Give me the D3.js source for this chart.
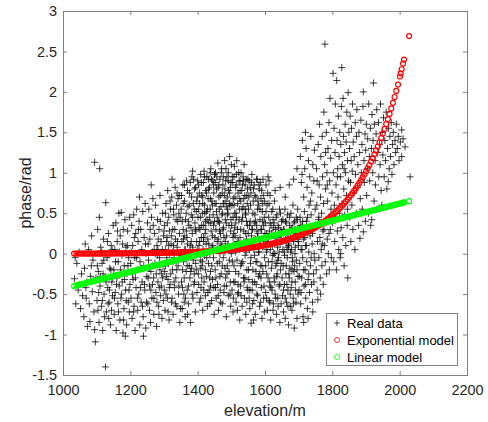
<!DOCTYPE html>
<html>
<head>
<meta charset="utf-8">
<script src="https://cdn.jsdelivr.net/npm/d3@7"></script>
<style>
  body { margin: 0; background: #fff; }
  svg { display: block; font-family: "Liberation Sans", Arial, Helvetica, sans-serif; }
</style>
</head>
<body>
<div id="chart"></div>
<script>
// Tick values
const xTicks = [1000, 1200, 1400, 1600, 1800, 2000, 2200];
const yTicks = [-1.5, -1, -0.5, 0, 0.5, 1, 1.5, 2, 2.5, 3];

// Legend labels
const legendLabels = ["Real data", "Exponential model", "Linear model"];

// Measured points [elevation, phase]
const realData = [
  [1034,-0.31],[1038,-0.62],[1041,-0.12],[1045,-0.45],[1048,0.02],[1052,-0.68],[1055,-0.25],[1058,-0.52],[1036,-0.05],[1050,-0.38],
  [1062,-0.78],[1064,-0.18],[1066,0.12],[1069,-0.55],[1071,-0.35],[1073,-0.9],[1076,0.05],[1078,-0.62],[1080,-0.84],[1082,-0.28],
  [1085,0.22],[1087,-0.47],[1089,-0.08],[1092,-0.72],[1094,-0.94],[1096,-1.09],[1098,-0.3],[1094,1.13],[1068,-0.42],[1084,-0.15],
  [1101,-0.58],[1103,0.3],[1105,-0.22],[1107,-0.85],[1108,0.45],[1109,1.05],[1110,-0.4],[1112,0.08],[1114,-0.65],[1116,-0.12],
  [1118,-0.95],[1120,0.18],[1122,-0.5],[1124,-0.3],[1126,-1.4],[1127,0.63],[1129,-0.72],[1131,-0.05],[1133,-0.42],[1135,0.25],
  [1137,-0.6],[1139,-0.18],[1141,-0.88],[1143,0.1],[1145,-0.35],[1147,-0.52],[1149,0.35],[1104,-0.7],[1119,-0.25],[1136,-0.8],
  [1151,-0.2],[1152,-0.75],[1154,0.05],[1155,-0.48],[1157,0.38],[1158,-0.95],[1160,-0.3],[1161,0.15],[1163,-0.62],[1164,-0.1],
  [1166,0.5],[1167,-0.4],[1169,-0.82],[1170,0.22],[1172,-0.55],[1173,0.51],[1175,-0.02],[1176,-0.35],[1178,-0.98],[1179,0.3],
  [1181,-0.68],[1182,-0.15],[1184,0.42],[1186,-0.45],[1187,0.08],[1189,-0.88],[1190,-0.25],[1192,0.28],[1194,-0.6],[1195,-0.05],
  [1197,-0.72],[1198,0.45],[1199,-0.38],[1168,0.02],[1185,-1.02],
  [1201,-0.12],[1202,-0.55],[1204,0.35],[1205,-0.8],[1207,0.1],[1208,-0.32],[1210,0.48],[1211,-0.65],[1213,-0.05],[1214,-0.95],
  [1216,0.25],[1217,-0.42],[1219,0.55],[1220,-0.2],[1222,-0.7],[1223,0.15],[1225,-0.5],[1226,0.4],[1228,-0.88],[1229,-0.1],
  [1231,0.3],[1232,-0.6],[1234,0.05],[1235,-0.35],[1237,0.52],[1238,-0.78],[1240,-0.15],[1241,0.2],[1243,-0.45],[1244,0.62],
  [1246,-0.92],[1247,0.0],[1249,-0.28],[1206,-0.25],[1227,0.7],[1239,-1.02],[1212,0.2],
  [1251,0.38],[1252,-0.62],[1254,-0.08],[1255,0.55],[1257,-0.4],[1258,0.18],[1260,-0.85],[1261,-0.22],[1263,0.45],[1264,-0.55],
  [1266,0.02],[1267,0.68],[1269,-0.3],[1270,-0.75],[1272,0.25],[1273,-0.12],[1275,0.6],[1276,-0.48],[1278,-0.9],[1279,0.1],
  [1281,0.42],[1282,-0.35],[1284,-0.65],[1285,0.3],[1287,-0.05],[1288,0.72],[1290,-0.52],[1291,0.15],[1293,-0.25],[1294,-0.8],
  [1296,0.5],[1297,-0.15],[1299,0.22],[1256,-0.18],[1271,0.05],[1286,-0.42],[1262,0.85],[1280,-0.02],
  [1301,-0.45],[1302,0.35],[1303,-0.7],[1305,0.05],[1306,0.62],[1307,-0.28],[1309,0.2],[1310,-0.55],[1311,0.78],[1313,-0.12],
  [1314,0.45],[1315,-0.82],[1317,0.0],[1318,-0.38],[1319,0.55],[1321,0.12],[1322,-0.6],[1323,0.7],[1325,-0.2],[1326,0.3],
  [1327,-0.75],[1329,0.48],[1330,-0.05],[1331,-0.42],[1333,0.82],[1334,0.18],[1335,-0.3],[1337,0.6],[1338,-0.65],[1339,0.08],
  [1341,0.4],[1342,-0.15],[1343,-0.5],[1345,0.72],[1346,0.25],[1347,-0.85],[1349,-0.02],[1304,-0.15],[1316,0.28],[1328,0.1],
  [1336,-0.1],[1344,0.5],[1312,-0.32],[1324,0.92],
  [1351,0.55],[1352,-0.35],[1353,0.15],[1354,-0.68],[1356,0.85],[1357,0.3],[1358,-0.1],[1359,-0.5],[1361,0.65],[1362,0.05],
  [1363,-0.78],[1364,0.42],[1366,-0.22],[1367,0.9],[1368,0.2],[1369,-0.45],[1371,0.58],[1372,-0.05],[1373,-0.62],[1374,0.35],
  [1376,0.75],[1377,-0.3],[1378,0.1],[1379,-0.85],[1381,0.48],[1382,-0.18],[1383,0.95],[1384,0.25],[1386,-0.55],[1387,0.62],
  [1388,0.0],[1389,-0.38],[1391,0.8],[1392,0.38],[1393,-0.72],[1394,-0.12],[1396,0.52],[1397,0.15],[1398,-0.48],[1399,0.7],
  [1355,-0.2],[1360,0.22],[1365,-0.02],[1370,0.12],[1375,-0.15],[1380,0.32],[1385,0.08],[1390,-0.25],[1395,0.28],[1370,-0.75],
  [1385,1.02],[1360,-0.6],
  [1401,0.45],[1402,-0.25],[1403,0.85],[1404,0.1],[1405,-0.6],[1406,0.62],[1407,0.3],[1408,-0.08],[1409,0.98],[1410,-0.42],
  [1411,0.2],[1412,0.72],[1413,-0.15],[1414,0.5],[1415,-0.7],[1416,0.05],[1417,0.88],[1418,0.35],[1419,-0.35],[1420,0.6],
  [1421,-0.02],[1422,0.25],[1423,-0.52],[1424,0.78],[1425,0.12],[1426,-0.28],[1427,0.95],[1428,0.42],[1429,-0.65],[1430,0.18],
  [1431,0.68],[1432,-0.12],[1433,0.38],[1434,-0.45],[1435,0.82],[1436,0.0],[1437,0.55],[1438,-0.22],[1439,1.05],[1440,0.28],
  [1441,-0.58],[1442,0.65],[1443,0.08],[1444,-0.32],[1445,0.9],[1446,0.48],[1447,-0.05],[1448,0.75],[1449,-0.75],[1404,0.32],
  [1412,-0.3],[1418,0.15],[1426,0.52],[1432,0.92],[1438,-0.4],[1444,0.22],[1409,-0.18],[1423,0.4],[1436,-0.62],[1447,0.35],
  [1415,0.7],[1429,0.02],
  [1451,0.62],[1452,-0.2],[1453,1.0],[1454,0.3],[1455,-0.55],[1456,0.8],[1457,0.05],[1458,0.45],[1459,-0.38],[1460,1.12],
  [1461,0.18],[1462,-0.7],[1463,0.7],[1464,-0.1],[1465,0.38],[1466,0.92],[1467,-0.45],[1468,0.25],[1469,0.58],[1470,-0.25],
  [1471,1.05],[1472,0.1],[1473,-0.62],[1474,0.5],[1475,0.85],[1476,-0.05],[1477,0.32],[1478,-0.48],[1479,0.72],[1480,1.15],
  [1481,0.02],[1482,0.42],[1483,-0.3],[1484,0.65],[1485,-0.78],[1486,0.22],[1487,0.95],[1488,-0.15],[1489,0.55],[1490,0.12],
  [1491,-0.52],[1492,0.78],[1493,0.35],[1494,-0.08],[1495,1.2],[1496,0.6],[1497,-0.35],[1498,0.28],[1499,0.88],[1453,-0.42],
  [1458,0.15],[1463,0.4],[1468,-0.6],[1473,0.75],[1478,0.2],[1483,0.9],[1488,0.48],[1493,-0.22],[1498,-0.65],[1456,0.52],
  [1466,0.0],[1476,0.62],[1486,-0.4],[1496,0.08],[1461,0.82],[1481,-0.18],[1491,1.0],
  [1501,0.35],[1502,-0.45],[1503,0.95],[1504,0.1],[1505,-0.72],[1506,0.68],[1507,0.25],[1508,-0.15],[1509,1.08],[1510,0.5],
  [1511,-0.35],[1512,0.82],[1513,0.02],[1514,-0.6],[1515,0.45],[1516,1.15],[1517,-0.08],[1518,0.3],[1519,-0.5],[1520,0.75],
  [1521,0.15],[1522,-0.25],[1523,0.9],[1524,0.55],[1525,-0.82],[1526,0.2],[1527,-0.4],[1528,0.65],[1529,1.0],[1530,-0.12],
  [1531,0.4],[1532,-0.65],[1533,0.85],[1534,0.08],[1535,0.58],[1536,-0.3],[1537,0.28],[1538,1.1],[1539,-0.55],[1540,0.72],
  [1541,-0.02],[1542,0.48],[1543,-0.75],[1544,0.92],[1545,0.18],[1546,-0.2],[1547,0.62],[1548,0.35],[1549,-0.45],[1503,-0.1],
  [1508,0.6],[1513,0.38],[1518,-0.7],[1523,0.12],[1528,-0.15],[1533,0.45],[1538,-0.35],[1543,0.25],[1548,0.8],[1506,-0.55],
  [1516,0.05],[1526,0.78],[1536,0.9],[1546,-0.6],[1511,0.22],[1521,-0.48],[1541,0.55],
  [1551,0.55],[1552,-0.32],[1553,0.9],[1554,0.05],[1555,-0.68],[1556,0.4],[1557,-0.12],[1558,0.75],[1559,-0.86],[1560,0.22],
  [1561,0.98],[1562,-0.45],[1563,0.3],[1564,-0.2],[1565,0.65],[1566,0.1],[1567,-0.58],[1568,0.85],[1569,-0.02],[1570,0.48],
  [1571,-0.75],[1572,0.18],[1573,0.7],[1574,-0.38],[1575,0.35],[1576,-0.1],[1577,0.92],[1578,-0.52],[1579,0.25],[1580,0.6],
  [1581,-0.28],[1582,0.02],[1583,0.8],[1584,-0.65],[1585,0.42],[1586,-0.15],[1587,0.15],[1588,0.68],[1589,-0.42],[1590,0.3],
  [1591,-0.8],[1592,0.52],[1593,0.08],[1594,-0.22],[1595,0.72],[1596,-0.55],[1597,0.2],[1598,0.45],[1599,-0.05],[1553,-0.55],
  [1558,0.12],[1563,-0.35],[1568,0.38],[1573,-0.22],[1578,0.55],[1583,0.1],[1588,-0.3],[1593,0.62],[1598,-0.72],[1556,0.82],
  [1566,-0.82],[1576,0.28],[1586,0.88],[1596,0.35],
  [1601,0.38],[1602,-0.48],[1603,0.85],[1604,0.02],[1605,-0.25],[1606,0.6],[1607,-0.7],[1608,0.15],[1609,0.95],[1610,-0.1],
  [1611,0.45],[1612,-0.58],[1613,0.28],[1614,-0.35],[1615,0.72],[1616,0.05],[1617,-0.82],[1618,0.35],[1619,-0.18],[1620,0.52],
  [1621,-0.45],[1622,0.1],[1623,-0.02],[1624,0.42],[1625,-0.62],[1626,0.22],[1627,-0.3],[1628,0.65],[1629,0.0],[1630,-0.5],
  [1631,0.3],[1632,-0.15],[1633,0.15],[1634,-0.75],[1635,0.48],[1636,-0.25],[1637,0.08],[1638,-0.55],[1639,0.35],[1640,-0.05],
  [1641,0.2],[1642,-0.4],[1643,0.55],[1644,-0.85],[1645,0.12],[1646,-0.2],[1647,0.28],[1648,-0.62],[1649,0.4],[1605,0.25],
  [1615,-0.4],[1625,0.32],[1635,-0.12],[1645,0.82],[1612,0.62],[1630,0.78],
  [1651,0.15],[1652,-0.52],[1653,0.42],[1654,-0.15],[1655,-0.72],[1656,0.3],[1657,0.02],[1658,-0.38],[1659,0.55],[1660,-0.8],
  [1661,0.18],[1662,-0.25],[1663,0.38],[1664,-0.6],[1665,0.08],[1666,-0.05],[1667,0.48],[1668,-0.45],[1669,0.25],[1670,-0.88],
  [1671,0.12],[1672,-0.3],[1673,0.35],[1674,-0.18],[1675,-0.65],[1676,0.2],[1677,0.5],[1678,-0.42],[1679,0.05],[1680,-0.7],
  [1681,0.32],[1682,-0.1],[1683,0.6],[1684,-0.55],[1685,0.15],[1686,-0.22],[1687,-0.92],[1688,0.4],[1689,0.0],[1690,-0.35],
  [1691,0.25],[1692,-0.6],[1693,0.45],[1694,-0.08],[1695,-0.8],[1696,0.18],[1697,0.55],[1698,-0.28],[1699,0.1],[1660,0.7],
  [1672,0.85],[1685,0.92],[1695,1.05],[1668,0.05],[1680,-0.2],[1690,0.3],
  [1701,-0.45],[1702,0.25],[1703,-0.12],[1704,0.45],[1705,1.2],[1706,-0.62],[1707,0.05],[1708,0.88],[1709,-0.3],[1710,0.35],
  [1711,1.4],[1712,-0.05],[1713,-0.78],[1714,0.18],[1715,0.7],[1716,-0.4],[1717,0.52],[1718,1.05],[1719,-0.2],[1720,0.1],
  [1721,-0.55],[1722,1.3],[1723,0.4],[1724,-0.1],[1725,0.82],[1726,-0.68],[1727,0.28],[1728,-0.32],[1729,1.15],[1730,0.02],
  [1731,0.6],[1732,-0.48],[1733,0.95],[1734,0.22],[1735,-0.15],[1736,1.45],[1737,0.48],[1738,-0.38],[1739,0.75],[1740,0.12],
  [1741,-0.6],[1742,1.1],[1743,0.32],[1744,-0.25],[1745,0.9],[1746,0.0],[1747,1.28],[1748,-0.08],[1749,0.55],[1715,-0.85],
  [1728,-0.8],[1742,-0.72],[1710,0.98],[1720,1.5],[1735,0.65],
  [1751,0.35],[1752,-0.2],[1753,1.05],[1754,0.6],[1755,-0.45],[1756,0.15],[1757,-0.57],[1758,1.35],[1759,0.42],[1760,-0.05],
  [1761,0.85],[1762,1.6],[1763,0.2],[1764,-0.3],[1765,0.7],[1766,1.2],[1767,0.05],[1768,0.5],[1769,-0.15],[1770,1.45],
  [1771,0.95],[1772,0.28],[1773,-0.38],[1774,0.62],[1775,1.75],[1776,0.1],[1777,1.1],[1778,2.59],[1779,-0.1],[1780,0.8],
  [1781,0.38],[1782,1.5],[1783,-0.25],[1784,1.0],[1785,0.18],[1786,0.65],[1787,1.3],[1788,0.0],[1789,0.45],[1790,1.62],
  [1791,-0.2],[1792,0.9],[1793,1.92],[1794,0.3],[1795,1.18],[1796,0.55],[1797,-0.05],[1798,1.4],[1799,0.75],[1760,0.45],
  [1770,0.12],[1780,1.25],[1790,0.25],[1755,0.9],[1765,-0.5],[1775,0.3],[1785,0.85],
  [1801,0.38],[1802,2.23],[1803,1.0],[1804,-0.1],[1805,1.55],[1806,0.6],[1807,0.15],[1808,1.25],[1809,1.85],[1810,0.45],
  [1811,0.85],[1812,-0.2],[1813,2.14],[1814,1.4],[1815,0.28],[1816,1.05],[1817,0.7],[1818,1.7],[1819,0.05],[1820,1.2],
  [1821,0.5],[1822,1.5],[1823,-0.05],[1824,0.95],[1825,1.35],[1826,0.32],[1827,1.82],[1828,2.3],[1829,0.62],[1830,1.1],
  [1831,0.2],[1832,1.92],[1833,1.45],[1834,0.8],[1835,-0.15],[1836,1.25],[1837,0.48],[1838,1.6],[1839,1.0],[1840,0.1],
  [1841,1.38],[1842,0.72],[1843,1.75],[1844,0.35],[1845,1.15],[1846,-0.3],[1847,1.99],[1848,0.9],[1849,1.5],[1815,0.95],
  [1825,0.0],[1835,1.05],[1845,0.55],
  [1851,1.3],[1852,0.45],[1853,1.7],[1854,0.88],[1855,0.15],[1856,1.15],[1857,1.55],[1858,0.6],[1859,1.02],[1860,1.85],
  [1861,0.3],[1862,1.38],[1864,0.75],[1865,1.2],[1867,0.05],[1868,1.62],[1869,0.98],[1871,0.5],[1872,1.45],[1873,1.78],
  [1875,0.82],[1876,1.1],[1878,0.35],[1879,1.5],[1881,1.25],[1882,0.19],[1883,0.68],[1885,1.65],[1886,1.0],[1888,1.35],
  [1889,0.55],[1891,1.82],[1892,2.0],[1892,0.27],[1894,1.15],[1895,0.88],[1897,1.48],[1898,0.4],[1899,1.28],
  [1901,1.6],[1902,0.72],[1904,1.05],[1905,1.42],[1907,0.5],[1908,1.85],[1910,1.2],[1911,0.9],[1913,1.55],[1914,0.35],
  [1916,1.3],[1917,0.42],[1918,1.72],[1920,1.0],[1921,1.4],[1922,2.11],[1924,0.65],[1925,1.6],[1927,1.15],[1928,0.85],
  [1930,1.48],[1932,1.78],[1933,0.55],[1935,1.25],[1937,1.62],[1938,0.95],[1940,1.35],[1942,1.1],[1943,1.85],[1945,0.78],
  [1947,0.6],[1948,1.5],[1950,1.22],
  [1952,1.68],[1954,0.95],[1956,1.4],[1958,1.15],[1960,1.75],[1962,0.8],[1964,1.3],[1966,0.89],[1967,1.55],[1969,1.05],
  [1971,1.45],[1973,1.2],[1975,1.62],[1977,0.98],[1979,1.35],[1981,1.5],[1983,1.1],[1986,1.4],[1988,1.25],[1990,1.6],
  [1993,1.3],[1996,1.45],[1998,1.15],
  [2002,1.38],[2006,1.53],[2006,1.2],[2010,1.42],[2016,1.32],[2031,0.95],
  // denser core of the cloud
  [1102,-0.15],[1106,-0.48],[1111,-0.28],[1115,0.02],[1117,-0.58],[1121,-0.08],[1123,-0.78],[1128,-0.35],[1132,0.15],[1134,-0.62],
  [1138,-0.45],[1142,-0.2],[1144,-0.7],[1146,0.05],[1148,-0.3],[1153,-0.55],[1156,-0.1],[1159,-0.38],[1162,0.28],[1165,-0.72],
  [1171,-0.2],[1174,-0.5],[1177,0.12],[1180,-0.82],[1183,-0.32],[1188,-0.58],[1191,0.1],[1193,-0.15],[1196,-0.45],[1203,0.02],
  [1209,-0.72],[1215,-0.3],[1218,-0.05],[1221,-0.55],[1224,0.3],[1230,-0.42],[1233,-0.18],[1236,-0.65],[1242,-0.38],[1245,0.12],
  [1248,-0.6],
  [1253,-0.3],[1253,0.12],[1257,-0.7],[1259,0.3],[1261,-0.45],[1265,-0.15],[1268,0.35],[1270,-0.55],[1274,0.0],[1277,-0.25],
  [1279,-0.6],[1283,0.18],[1285,-0.75],[1288,-0.2],[1289,0.4],[1292,-0.4],[1295,0.05],[1298,-0.58],[1300,0.28],[1302,-0.22],
  [1304,0.5],[1306,-0.5],[1308,-0.05],[1310,0.38],[1312,-0.72],[1314,0.1],[1316,-0.42],[1318,0.65],[1320,-0.25],[1322,0.22],
  [1324,-0.55],[1326,0.02],[1328,0.55],[1330,-0.35],[1332,0.3],[1334,-0.62],[1336,0.42],[1338,-0.2],[1340,0.15],[1342,0.68],
  [1344,-0.4],[1346,-0.05],[1348,0.45],[1349,-0.68],[1266,-0.38],[1282,0.05],[1296,-0.3],[1308,0.15],[1327,-0.1],[1339,0.75],
  [1351,-0.05],[1352,0.72],[1354,0.4],[1355,-0.42],[1357,0.62],[1358,0.18],[1360,-0.3],[1361,0.85],[1363,0.05],[1364,-0.55],
  [1366,0.5],[1367,0.28],[1369,-0.15],[1370,0.78],[1372,0.4],[1373,-0.4],[1375,0.6],[1376,0.02],[1378,0.88],[1379,-0.22],
  [1381,0.15],[1382,0.7],[1384,-0.5],[1385,0.45],[1387,-0.08],[1388,0.92],[1390,0.55],[1391,-0.35],[1393,0.3],[1394,0.82],
  [1396,-0.2],[1397,0.65],[1399,0.05],[1400,0.9],[1402,0.55],[1403,-0.38],[1405,0.75],[1406,0.15],[1408,0.45],[1409,-0.55],
  [1411,0.88],[1412,0.35],[1414,-0.1],[1415,0.62],[1417,0.2],[1418,-0.45],[1420,0.95],[1421,0.5],[1423,-0.2],[1424,0.3],
  [1426,0.75],[1427,-0.05],[1429,0.55],[1430,-0.48],[1432,0.8],[1433,0.12],[1435,0.45],[1436,-0.3],[1438,0.68],[1439,0.38],
  [1441,0.92],[1442,-0.15],[1444,0.6],[1445,0.1],[1447,0.85],[1448,-0.42],[1450,0.4],[1450,0.98],[1437,1.0],[1419,1.02],
  [1451,0.2],[1452,0.88],[1454,-0.3],[1455,0.62],[1457,0.95],[1458,-0.12],[1460,0.4],[1461,-0.52],[1463,0.85],[1464,0.55],
  [1466,-0.28],[1467,0.72],[1469,0.12],[1470,1.0],[1472,0.48],[1473,-0.15],[1475,0.3],[1476,0.95],[1478,0.62],[1479,-0.4],
  [1481,0.8],[1482,0.15],[1484,1.05],[1485,0.38],[1487,-0.25],[1488,0.7],[1490,0.5],[1491,0.9],[1493,0.05],[1494,0.62],
  [1496,-0.5],[1497,0.82],[1499,0.42],[1500,1.1],[1500,0.0],[1502,0.6],[1504,0.88],[1505,0.2],[1507,-0.35],[1508,0.95],
  [1510,0.32],[1511,0.7],[1513,-0.22],[1514,0.5],[1516,0.85],[1517,0.15],[1519,0.62],[1520,-0.38],[1522,1.0],[1523,0.42],
  [1525,0.05],[1526,0.9],[1528,0.3],[1529,-0.52],[1531,0.78],[1532,0.55],[1534,-0.1],[1535,0.95],[1537,0.68],[1538,0.12],
  [1540,-0.3],[1541,0.85],[1543,0.5],[1544,0.02],[1546,0.72],[1547,-0.42],[1549,0.92],[1550,0.25],[1465,0.28],[1485,0.58],
  [1505,0.45],[1525,0.68],[1545,0.4],[1495,0.75],[1515,0.98],
  [1551,-0.2],[1552,0.7],[1554,0.35],[1555,-0.45],[1557,0.6],[1558,-0.05],[1560,0.88],[1561,0.3],[1563,-0.62],[1564,0.5],
  [1566,0.8],[1567,0.05],[1569,-0.35],[1570,0.72],[1572,0.4],[1573,-0.1],[1575,0.92],[1576,-0.5],[1578,0.2],[1579,0.65],
  [1581,0.02],[1582,0.85],[1584,-0.25],[1585,0.55],[1587,-0.6],[1588,0.3],[1590,0.78],[1591,-0.15],[1593,0.4],[1594,0.92],
  [1596,0.12],[1597,-0.4],[1599,0.65],[1600,0.25],[1602,-0.15],[1603,0.52],[1605,-0.55],[1606,0.05],[1608,0.75],[1609,-0.3],
  [1611,0.2],[1612,0.9],[1614,-0.6],[1615,0.38],[1617,0.12],[1618,-0.42],[1620,0.25],[1621,-0.1],[1623,0.55],[1624,-0.7],
  [1626,0.0],[1627,0.38],[1629,-0.35],[1630,0.15],[1632,-0.55],[1633,0.45],[1635,-0.28],[1636,0.2],[1638,-0.08],[1639,-0.65],
  [1641,0.32],[1642,0.02],[1644,-0.38],[1646,0.5],[1648,-0.12],
  [1651,-0.3],[1653,0.05],[1655,-0.45],[1656,0.3],[1658,-0.02],[1660,-0.55],[1661,0.4],[1663,-0.15],[1665,-0.38],[1666,0.25],
  [1668,-0.65],[1670,0.1],[1671,-0.25],[1673,0.45],[1675,-0.5],[1676,0.02],[1678,0.3],[1680,-0.35],[1681,-0.05],[1683,0.2],
  [1685,-0.62],[1686,0.38],[1688,-0.15],[1690,0.08],[1691,-0.45],[1693,0.25],[1695,-0.2],[1696,0.42],[1698,-0.5],[1700,0.15],
  [1702,-0.28],[1705,0.35],[1707,-0.48],[1710,0.05],[1712,0.4],[1715,-0.2],[1718,0.2],[1720,-0.38],[1723,0.1],[1726,0.45],
  [1730,-0.25],[1733,0.3],[1737,-0.05],[1741,0.25],[1745,-0.35]
];

// Elevations at which both models are plotted
const modelX = [
  1033,1040,1045,1050,1055,1060,1065,1070,1075,1080,
  1085,1090,1095,1100,1105,1110,1115,1120,1125,1130,
  1135,1140,1145,1150,1155,1160,1165,1170,1175,1180,
  1185,1190,1195,1200,1205,1210,1215,1220,1225,1230,
  1235,1240,1245,1250,1255,1260,1265,1270,1275,1280,
  1285,1290,1295,1300,1305,1310,1315,1320,1325,1330,
  1335,1340,1345,1350,1355,1360,1365,1370,1375,1380,
  1385,1390,1395,1400,1405,1410,1415,1420,1425,1430,
  1435,1440,1445,1450,1455,1460,1465,1470,1475,1480,
  1485,1490,1495,1500,1505,1510,1515,1520,1525,1530,
  1535,1540,1545,1550,1555,1560,1565,1570,1575,1580,
  1585,1590,1595,1600,1605,1610,1615,1620,1625,1630,
  1635,1640,1645,1650,1655,1660,1665,1670,1675,1680,
  1685,1690,1695,1700,1705,1710,1715,1720,1725,1730,
  1735,1740,1745,1750,1755,1760,1765,1770,1775,1780,
  1785,1790,1795,1800,1805,1810,1815,1820,1825,1830,
  1835,1840,1845,1850,1855,1860,1865,1870,1875,1880,
  1885,1890,1895,1900,1905,1910,1915,1920,1925,1930,
  1935,1940,1945,1950,1955,1960,1965,1970,1975,1980,
  1985,1990,1995,2001,2003,2006,2010,2013,2028
];

// Exponential model values
const expY = [
  0.001,0.002,0.002,0.002,0.002,0.002,0.002,0.002,0.002,0.002,
  0.002,0.002,0.002,0.002,0.003,0.003,0.003,0.003,0.003,0.003,
  0.003,0.003,0.003,0.004,0.004,0.004,0.004,0.004,0.004,0.004,
  0.005,0.005,0.005,0.005,0.005,0.006,0.006,0.006,0.006,0.007,
  0.007,0.007,0.007,0.008,0.008,0.008,0.009,0.009,0.009,0.010,
  0.010,0.010,0.011,0.011,0.012,0.012,0.012,0.013,0.013,0.014,
  0.014,0.015,0.015,0.016,0.016,0.017,0.018,0.018,0.019,0.020,
  0.020,0.021,0.022,0.023,0.024,0.025,0.026,0.027,0.028,0.029,
  0.030,0.031,0.032,0.033,0.035,0.036,0.037,0.039,0.040,0.042,
  0.044,0.045,0.047,0.049,0.051,0.053,0.055,0.057,0.059,0.061,
  0.064,0.066,0.069,0.071,0.074,0.077,0.080,0.083,0.086,0.089,
  0.093,0.096,0.100,0.104,0.108,0.112,0.116,0.121,0.126,0.131,
  0.136,0.141,0.146,0.152,0.158,0.164,0.170,0.177,0.184,0.191,
  0.198,0.206,0.214,0.223,0.231,0.240,0.249,0.259,0.269,0.280,
  0.290,0.302,0.313,0.325,0.338,0.351,0.365,0.379,0.394,0.409,
  0.425,0.441,0.458,0.476,0.494,0.513,0.533,0.554,0.575,0.597,
  0.620,0.644,0.669,0.695,0.722,0.750,0.779,0.809,0.840,0.873,
  0.907,0.942,0.978,1.016,1.055,1.096,1.138,1.182,1.228,1.276,
  1.325,1.376,1.430,1.485,1.542,1.602,1.664,1.728,1.795,1.865,
  1.937,2.012,2.09,2.19,2.23,2.28,2.35,2.40,2.69
];

// Linear model values
const linY = [
  -0.400,-0.393,-0.387,-0.382,-0.377,-0.372,-0.366,-0.361,-0.356,-0.350,
  -0.345,-0.340,-0.335,-0.329,-0.324,-0.319,-0.314,-0.308,-0.303,-0.298,
  -0.292,-0.287,-0.282,-0.277,-0.271,-0.266,-0.261,-0.256,-0.250,-0.245,
  -0.240,-0.235,-0.229,-0.224,-0.219,-0.213,-0.208,-0.203,-0.198,-0.192,
  -0.187,-0.182,-0.177,-0.171,-0.166,-0.161,-0.155,-0.150,-0.145,-0.140,
  -0.134,-0.129,-0.124,-0.119,-0.113,-0.108,-0.103,-0.098,-0.092,-0.087,
  -0.082,-0.076,-0.071,-0.066,-0.061,-0.055,-0.050,-0.045,-0.039,-0.034,
  -0.029,-0.024,-0.018,-0.013,-0.008,-0.003,0.003,0.008,0.013,0.018,
  0.024,0.029,0.034,0.040,0.045,0.050,0.055,0.061,0.066,0.071,
  0.076,0.082,0.087,0.092,0.097,0.103,0.108,0.113,0.119,0.124,
  0.129,0.134,0.140,0.145,0.150,0.155,0.161,0.166,0.171,0.177,
  0.182,0.187,0.192,0.198,0.203,0.208,0.213,0.219,0.224,0.229,
  0.234,0.240,0.245,0.250,0.256,0.261,0.266,0.271,0.277,0.282,
  0.287,0.293,0.298,0.303,0.308,0.314,0.319,0.324,0.329,0.335,
  0.340,0.345,0.350,0.356,0.361,0.366,0.372,0.377,0.382,0.387,
  0.393,0.398,0.403,0.408,0.414,0.419,0.424,0.430,0.435,0.440,
  0.445,0.451,0.456,0.461,0.466,0.472,0.477,0.482,0.487,0.493,
  0.498,0.503,0.509,0.514,0.519,0.524,0.530,0.535,0.540,0.545,
  0.551,0.556,0.561,0.566,0.572,0.577,0.582,0.588,0.593,0.598,
  0.603,0.609,0.614,0.620,0.622,0.625,0.630,0.633,0.649
];

const width = 488, height = 422;
const margin = {top: 11, right: 21, bottom: 47, left: 63};
const textColor = '#262626';
const frameColor = '#808080';

const svg = d3.select('#chart').append('svg')
  .attr('width', width)
  .attr('height', height);

// Scales
const x = d3.scaleLinear()
  .domain([1000, 2200])
  .range([margin.left, width - margin.right]);

const y = d3.scaleLinear()
  .domain([-1.5, 3])
  .range([height - margin.bottom, margin.top]);

/////////////////////////////////////////////////////////
////////////////////// Axes ////////////////////////////
/////////////////////////////////////////////////////////

const fmt = d => String(d);

function styleAxis(g) {
  g.select('.domain').remove();
  g.selectAll('.tick line').attr('stroke', frameColor);
  g.selectAll('.tick text')
    .attr('fill', textColor)
    .style('font-size', '14.4px');
}

svg.append('g')
  .attr('transform', 'translate(0,' + (height - margin.bottom) + ')')
  .call(d3.axisBottom(x).tickValues(xTicks).tickFormat(fmt).tickSizeInner(-4).tickSizeOuter(0).tickPadding(10))
  .call(styleAxis);

svg.append('g')
  .attr('transform', 'translate(0,' + margin.top + ')')
  .call(d3.axisTop(x).tickValues(xTicks).tickFormat('').tickSizeInner(-4).tickSizeOuter(0))
  .call(styleAxis);

svg.append('g')
  .attr('transform', 'translate(' + margin.left + ',0)')
  .call(d3.axisLeft(y).tickValues(yTicks).tickFormat(fmt).tickSizeInner(-4).tickSizeOuter(0).tickPadding(6))
  .call(styleAxis);

svg.append('g')
  .attr('transform', 'translate(' + (width - margin.right) + ',0)')
  .call(d3.axisRight(y).tickValues(yTicks).tickFormat('').tickSizeInner(-4).tickSizeOuter(0))
  .call(styleAxis);

// Box around the plot
svg.append('rect')
  .attr('x', x(1000))
  .attr('y', y(3))
  .attr('width', x(2200) - x(1000))
  .attr('height', y(-1.5) - y(3))
  .attr('fill', 'none')
  .attr('stroke', frameColor)
  .attr('stroke-width', 1)
  .attr('shape-rendering', 'crispEdges');

// Axis labels
svg.append('text')
  .attr('x', (x(1000) + x(2200)) / 2)
  .attr('y', 416)
  .attr('text-anchor', 'middle')
  .attr('fill', textColor)
  .style('font-size', '16px')
  .text('elevation/m');

svg.append('text')
  .attr('transform', 'translate(31,' + ((y(3) + y(-1.5)) / 2) + ') rotate(-90)')
  .attr('text-anchor', 'middle')
  .attr('fill', textColor)
  .style('font-size', '16px')
  .text('phase/rad');

/////////////////////////////////////////////////////////
////////////////////// Marks ///////////////////////////
/////////////////////////////////////////////////////////

const plus = 'M-3.5,0H3.5M0,-3.5V3.5';

svg.append('g')
  .selectAll('path')
  .data(realData)
  .enter()
  .append('path')
  .attr('transform', d => 'translate(' + x(d[0]) + ',' + y(d[1]) + ')')
  .attr('d', plus)
  .attr('stroke', '#000')
  .attr('stroke-opacity', 0.9)
  .attr('stroke-width', 0.85);

const models = [
  {values: expY, color: '#ff0000'},
  {values: linY, color: '#00ff00'}
];

models.forEach(m => {
  svg.append('g')
    .selectAll('circle')
    .data(modelX)
    .enter()
    .append('circle')
    .attr('cx', d => x(d))
    .attr('cy', (d, i) => y(m.values[i]))
    .attr('r', 2.5)
    .attr('fill', 'none')
    .attr('stroke', m.color)
    .attr('stroke-width', 1.2);
});

/////////////////////////////////////////////////////////
////////////////////// Legend //////////////////////////
/////////////////////////////////////////////////////////

const legend = svg.append('g').attr('transform', 'translate(326,313)');

legend.append('rect')
  .attr('width', 131)
  .attr('height', 52)
  .attr('fill', '#fff')
  .attr('stroke', frameColor)
  .attr('stroke-width', 1)
  .attr('shape-rendering', 'crispEdges');

legendLabels.forEach((label, i) => {
  const row = legend.append('g').attr('transform', 'translate(11,' + (10 + i * 17) + ')');
  if (i === 0) {
    row.append('path')
      .attr('d', 'M-3,0H3M0,-3V3')
      .attr('stroke', '#000')
      .attr('stroke-width', 0.7);
  } else {
    row.append('circle')
      .attr('r', 2.5)
      .attr('fill', 'none')
      .attr('stroke', models[i - 1].color)
      .attr('stroke-width', 0.8);
  }
  row.append('text')
    .attr('x', 10)
    .attr('dy', '0.35em')
    .attr('fill', '#000')
    .style('font-size', '13px')
    .text(label);
});
</script>
</body>
</html>
